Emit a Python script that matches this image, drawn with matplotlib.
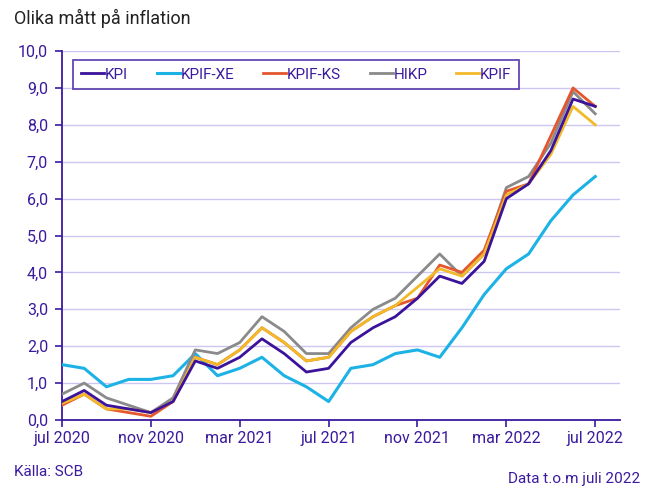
import matplotlib
matplotlib.use('Agg')
import matplotlib.pyplot as plt

plt.rcParams['font.family'] = ['Roboto', 'DejaVu Sans']

months = ['jul 2020', 'aug 2020', 'sep 2020', 'okt 2020', 'nov 2020', 'dec 2020',
          'jan 2021', 'feb 2021', 'mar 2021', 'apr 2021', 'maj 2021', 'jun 2021',
          'jul 2021', 'aug 2021', 'sep 2021', 'okt 2021', 'nov 2021', 'dec 2021',
          'jan 2022', 'feb 2022', 'mar 2022', 'apr 2022', 'maj 2022', 'jun 2022',
          'jul 2022']
kpi = [0.5, 0.8, 0.4, 0.3, 0.2, 0.5, 1.6, 1.4, 1.7, 2.2, 1.8, 1.3, 1.4,
       2.1, 2.5, 2.8, 3.3, 3.9, 3.7, 4.3, 6.0, 6.4, 7.3, 8.7, 8.5]
kpif_xe = [1.5, 1.4, 0.9, 1.1, 1.1, 1.2, 1.8, 1.2, 1.4, 1.7, 1.2, 0.9, 0.5,
           1.4, 1.5, 1.8, 1.9, 1.7, 2.5, 3.4, 4.1, 4.5, 5.4, 6.1, 6.6]
kpif_ks = [0.4, 0.7, 0.3, 0.2, 0.1, 0.5, 1.7, 1.5, 1.9, 2.5, 2.1, 1.6, 1.7,
           2.4, 2.8, 3.1, 3.3, 4.2, 4.0, 4.6, 6.2, 6.4, 7.7, 9.0, 8.5]
hikp = [0.7, 1.0, 0.6, 0.4, 0.2, 0.6, 1.9, 1.8, 2.1, 2.8, 2.4, 1.8, 1.8,
        2.5, 3.0, 3.3, 3.9, 4.5, 3.9, 4.5, 6.3, 6.6, 7.5, 8.9, 8.3]
kpif = [0.45, 0.7, 0.3, 0.3, 0.2, 0.5, 1.7, 1.5, 1.9, 2.5, 2.1, 1.6, 1.7,
        2.4, 2.8, 3.1, 3.6, 4.1, 3.9, 4.5, 6.1, 6.4, 7.2, 8.5, 8.0]
yticks = [0, 1, 2, 3, 4, 5, 6, 7, 8, 9, 10]

purple = '#3a1a9e'
grid_col = '#cdc6f2'

fig = plt.figure(figsize=(6.47, 5.04), dpi=100)
ax = fig.add_axes([0.0958, 0.1667, 0.862, 0.732])

x = list(range(len(months)))
ax.plot(x, kpif_xe, color='#1cb2e6', lw=2.2, label='KPIF-XE', zorder=3)
ax.plot(x, hikp, color='#8a8a8a', lw=2.0, label='HIKP', zorder=4)
ax.plot(x, kpif_ks, color='#e4572e', lw=2.0, label='KPIF-KS', zorder=5)
ax.plot(x, kpif, color='#f2b928', lw=2.0, label='KPIF', zorder=6)
ax.plot(x, kpi, color='#3b129b', lw=2.0, label='KPI', zorder=7)

ax.set_xlim(0, 25.1)
ax.set_ylim(0, 10)
ax.set_yticks(yticks)
ax.set_yticklabels([('%.1f' % v).replace('.', ',') for v in yticks])
ax.set_xticks(x[::4])
ax.set_xticklabels(months[::4])
ax.grid(axis='y', color=grid_col, lw=1)
ax.set_axisbelow(True)
for s in ['top', 'right']:
    ax.spines[s].set_visible(False)
for s in ['left', 'bottom']:
    ax.spines[s].set_color(purple)
    ax.spines[s].set_linewidth(1.3)
ax.tick_params(colors=purple, labelsize=11.5, length=5, width=1.2)
ax.tick_params(axis='y', pad=5)
ax.tick_params(axis='x', pad=3)

h, l = ax.get_legend_handles_labels()
order = ['KPI', 'KPIF-XE', 'KPIF-KS', 'HIKP', 'KPIF']
hs = [h[l.index(n)] for n in order]
leg = ax.legend(hs, order, ncol=5, loc='upper left', bbox_to_anchor=(0.02, 0.976),
                borderaxespad=0, frameon=True, fancybox=False, fontsize=11,
                handlelength=1.5, handletextpad=0.05, columnspacing=1.9,
                borderpad=0.5)
leg.get_frame().set_edgecolor(purple)
leg.get_frame().set_linewidth(1.3)
for t in leg.get_texts():
    t.set_color(purple)

fig.text(0.022, 0.952, 'Olika mått på inflation', fontsize=13, color='#222222')
fig.text(0.022, 0.055, 'Källa: SCB', fontsize=11, color=purple)
fig.text(0.99, 0.042, 'Data t.o.m juli 2022', fontsize=11, color=purple, ha='right')

fig.savefig('out.png', dpi=100)
